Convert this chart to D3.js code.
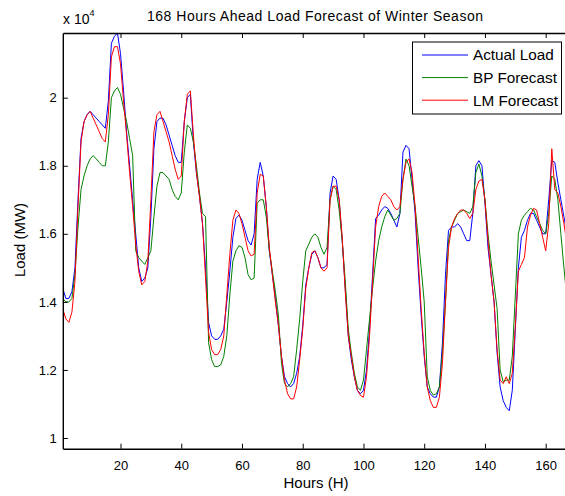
<!DOCTYPE html>
<html>
<head>
<meta charset="utf-8">
<script src="https://cdn.jsdelivr.net/npm/d3@7"></script>
<style>
  body { margin: 0; background: #fff; }
  svg text { font-family: "Liberation Sans", Arial, sans-serif; fill: #000; }
</style>
</head>
<body>
<div id="chart"></div>
<script>
// hourly load, MW
const hours = d3.range(1, 169);

const actualLoad = [
  14400, 14100, 14100, 14300, 15000, 17000, 18800, 19300, 19500, 19600, 19500, 19400,
  19300, 19200, 19100, 19900, 21600, 21800, 21900, 21300, 20200, 19000, 18000, 17000,
  16000, 15000, 14600, 14700, 15000, 16500, 18500, 19300, 19400, 19400, 19200, 18900,
  18600, 18300, 18100, 18100, 19300, 20000, 20100, 18700, 17800, 17100, 16300, 15000,
  13400, 13000, 12900, 12900, 13000, 13200, 14000, 14900, 15900, 16450, 16550, 16400,
  16100, 15800, 15670, 16000, 17600, 18100, 17700, 16800, 15500, 14800, 14100, 13300,
  12400, 11800, 11600, 11500, 11600, 11900, 12400, 13300, 14500, 15000, 15400, 15500,
  15300, 15000, 15000, 15100, 17200, 17700, 17600, 17000, 15800, 14400, 13000, 12300,
  11800, 11400, 11300, 11400, 12000, 13200, 14800, 16450, 16550, 16700, 16800, 16750,
  16600, 16400, 16200, 16600, 18400, 18600, 18500, 17600, 16600, 15000, 13600, 12400,
  11500, 11300, 11200, 11200, 11500, 12800, 14800, 16100, 16200, 16200, 16300, 16200,
  16000, 15800, 15800, 16600, 18000, 18150, 18000, 16900, 15600, 14800, 14000, 12500,
  11500, 11100, 10900, 10800, 11400, 13200, 15000, 15900, 16100, 16400, 16600, 16600,
  16400, 16200, 16000, 16000, 17000, 18150, 18100, 17500, 17000, 16500, 16000, 15500
];

const bpForecast = [
  14100, 14000, 14000, 14100, 14800, 16200, 17300, 17700, 18000, 18200, 18300, 18200,
  18100, 18000, 18000, 18700, 20000, 20200, 20300, 20100, 19700, 19300, 18800, 18300,
  15500, 15300, 15200, 15100, 15300, 15500, 16500, 17400, 17800, 17800, 17700, 17600,
  17300, 17100, 17000, 17200, 18400, 19200, 19100, 18700, 18000, 17200, 16600, 16500,
  12800, 12300, 12100, 12100, 12150, 12400, 13000, 14200, 15200, 15500, 15650, 15600,
  15300, 14800, 14650, 14700, 16900, 17000, 17000, 16500, 15500, 14900, 14300, 13600,
  12200, 11600, 11500, 11600, 11800, 12600, 13500, 14600, 15500, 15700, 15900, 16000,
  15900, 15600, 15400, 15600, 17000, 17400, 17300, 16700, 15800, 14600, 13200, 12500,
  11900, 11500, 11400, 11700, 12600, 13500, 14400, 15200, 15800, 16200, 16500, 16700,
  16550, 16400, 16450, 16600, 17600, 18200, 18000, 17400, 16800, 15900, 15000, 14000,
  11800, 11400, 11260, 11300, 11500, 12500, 14000, 15800, 16200, 16400, 16600, 16650,
  16700, 16650, 16600, 16800, 17800, 18050, 17700, 17000, 16000, 15200, 14500, 13800,
  12000, 11650, 11700, 11700, 12400, 14200, 16000, 16400, 16550, 16650, 16750, 16700,
  16500, 16300, 16100, 16000, 16600, 17700, 17600, 17000, 16000, 15000, 14100, 13500
];

const lmForecast = [
  13800, 13500, 13400, 13700, 14600, 16800, 18700, 19300, 19500, 19600, 19400, 19200,
  19000, 18800, 18700, 19500, 21200, 21500, 21500, 21000, 19900, 18900, 17800, 16800,
  15700, 14900, 14500, 14600, 15200, 17000, 19000, 19500, 19600, 19300, 19000, 18700,
  18300, 17900, 17600, 17700, 19300, 20100, 20200, 18900, 17800, 17100, 16300, 14700,
  13100, 12600, 12450, 12450, 12600, 13000, 14200, 15400, 16400, 16700, 16600, 16300,
  15900, 15500, 15350, 15400, 17200, 17750, 17700, 16800, 15600, 14800, 14000, 13300,
  12400, 11700, 11300, 11150, 11150, 11500, 12300, 13200, 14400, 15000, 15450, 15500,
  15300, 15000, 14900, 15000, 17000, 17400, 17400, 17000, 15900, 14300, 13000, 12400,
  11800, 11400, 11250, 11200, 11800, 13000, 14600, 16200, 16800, 17100, 17200, 17100,
  17000, 16800, 16700, 16800, 17600, 18100, 18200, 17800, 16800, 15300, 13800, 12500,
  11500, 11100, 10900, 10900, 11200, 12200, 14000, 15600, 16200, 16450, 16600, 16700,
  16700, 16600, 16450, 16600, 17300, 17550, 17600, 17000, 15800, 14800, 14000, 12600,
  11700, 11600, 11800, 11600, 11900, 13300, 14900, 15100, 15300, 16200, 16550, 16750,
  16700, 16300, 15900, 15500, 16300, 18500, 17300, 17200, 16800, 16300, 15700, 15200
];

const seriesNames = ["Actual Load", "BP Forecast", "LM Forecast"];
const xTicks = [20, 40, 60, 80, 100, 120, 140, 160];
const yTicks = [10000, 12000, 14000, 16000, 18000, 20000];

// layout
const WIDTH = 565, HEIGHT = 496;
const TOP = 33, BOTTOM = 448.7;
const COLORS = ["#0000ff", "#008000", "#ff0000"];
const TICK = 5;

const svg = d3.select("#chart").append("svg")
  .attr("width", WIDTH)
  .attr("height", HEIGHT);

const xScale = d3.scaleLinear().domain([1, 168]).range([62.8, 570]);
const yScale = d3.scaleLinear().domain([9686, 21901]).range([BOTTOM, TOP]);

const LEFT = xScale(1), RIGHT = xScale(168);

svg.append("clipPath").attr("id", "plot")
  .append("rect")
  .attr("x", LEFT).attr("y", TOP)
  .attr("width", RIGHT - LEFT).attr("height", BOTTOM - TOP);

// data lines
const line = d3.line()
  .x((d, i) => xScale(hours[i]))
  .y(d => yScale(d));

[actualLoad, bpForecast, lmForecast].forEach((s, k) => {
  svg.append("path")
    .datum(s)
    .attr("clip-path", "url(#plot)")
    .attr("fill", "none")
    .attr("stroke", COLORS[k])
    .attr("stroke-width", 1)
    .attr("d", line);
});

// axes box, ticks pointing inward like matlab
const fmt = d => d3.format("~g")(d / 1e4);

function styleAxis(g) {
  g.select(".domain").attr("stroke", "#000").attr("stroke-width", 1.4);
  g.selectAll(".tick line").attr("stroke", "#000").attr("stroke-width", 1);
  g.selectAll("text").attr("font-size", 13).attr("fill", "#000")
    .attr("font-family", "Liberation Sans, Arial, sans-serif");
}

svg.append("g")
  .attr("transform", `translate(0,${BOTTOM})`)
  .call(d3.axisBottom(xScale).tickValues(xTicks)
    .tickSizeInner(-TICK).tickSizeOuter(0).tickPadding(12))
  .call(styleAxis);

svg.append("g")
  .attr("transform", `translate(0,${TOP})`)
  .call(d3.axisTop(xScale).tickValues(xTicks)
    .tickSizeInner(-TICK).tickSizeOuter(0).tickFormat(""))
  .call(styleAxis);

svg.append("g")
  .attr("transform", `translate(${LEFT},0)`)
  .call(d3.axisLeft(yScale).tickValues(yTicks).tickFormat(fmt)
    .tickSizeInner(-TICK).tickSizeOuter(0).tickPadding(6))
  .call(styleAxis);

svg.append("g")
  .attr("transform", `translate(${RIGHT},0)`)
  .call(d3.axisRight(yScale).tickValues(yTicks).tickFormat("")
    .tickSizeInner(-TICK).tickSizeOuter(0))
  .call(styleAxis);

// titles
svg.append("text")
  .attr("x", 315).attr("y", 21)
  .attr("text-anchor", "middle")
  .attr("font-size", 14)
  .attr("textLength", 336)
  .attr("lengthAdjust", "spacing")
  .text("168 Hours Ahead Load Forecast of Winter Season");

const expo = svg.append("text")
  .attr("x", 63).attr("y", 24)
  .attr("font-size", 14);
expo.append("tspan").text("x 10");
expo.append("tspan").attr("font-size", 9).attr("dy", -8).text("4");

svg.append("text")
  .attr("x", 316).attr("y", 488)
  .attr("text-anchor", "middle")
  .attr("font-size", 15)
  .text("Hours (H)");

svg.append("text")
  .attr("transform", "translate(25,240) rotate(-90)")
  .attr("text-anchor", "middle")
  .attr("font-size", 15)
  .text("Load (MW)");

// legend
const legend = svg.append("g");
legend.append("rect")
  .attr("x", 412.5).attr("y", 42)
  .attr("width", 149).attr("height", 72)
  .attr("fill", "#fff")
  .attr("stroke", "#000")
  .attr("stroke-width", 1);

seriesNames.forEach((name, k) => {
  const y = 55 + k * 22.6;
  legend.append("line")
    .attr("x1", 422).attr("x2", 468)
    .attr("y1", y).attr("y2", y)
    .attr("stroke", COLORS[k]);
  legend.append("text")
    .attr("x", 473).attr("y", y)
    .attr("dy", "0.35em")
    .attr("font-size", 15.3)
    .text(name);
});
</script>
</body>
</html>
